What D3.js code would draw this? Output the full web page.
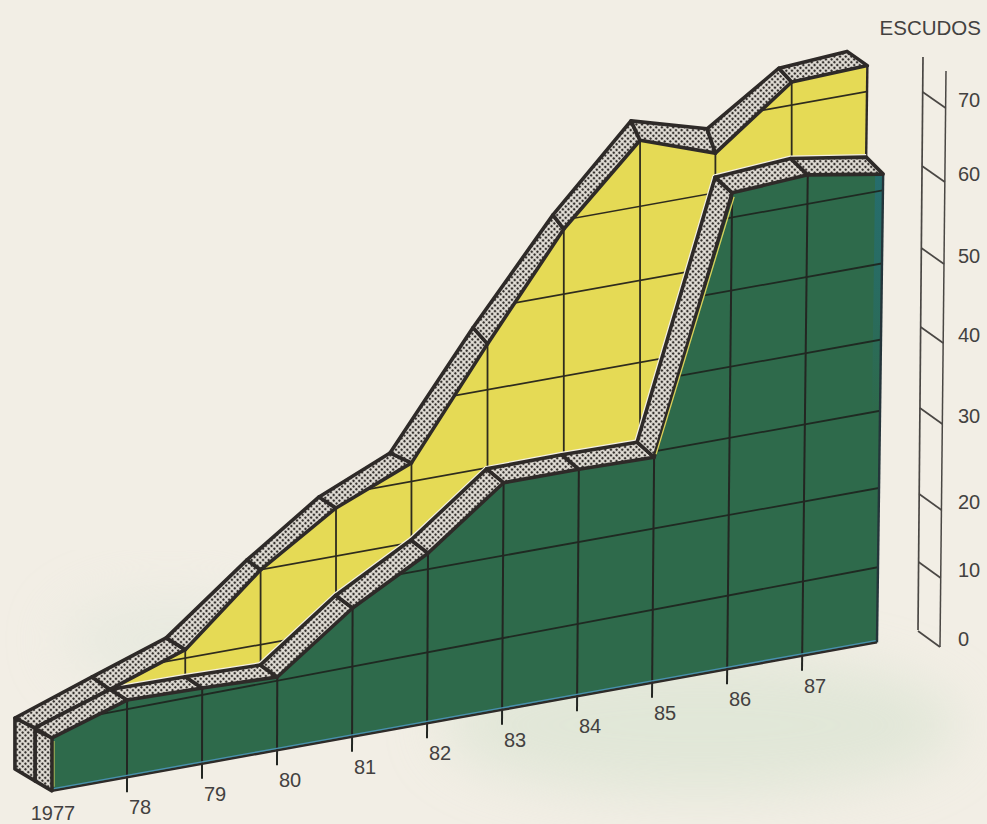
<!DOCTYPE html>
<html><head><meta charset="utf-8">
<script src="https://cdn.jsdelivr.net/npm/d3@7"></script>
<style>html,body{margin:0;padding:0;background:#f2eee5}svg{display:block}text{font-family:"Liberation Sans",Arial,sans-serif;fill:#434140}</style>
</head><body><svg id="c" width="987" height="824"></svg>
<script>
// ---- data ----
const yearLabels = ["1977","78","79","80","81","82","83","84","85","86","87",""];
const greenValues  = [7.83,11.06,10.82,10.45,17.0,22.1,29.5,29.5,29.3,63.4,64.0,62.3];
const yellowValues = [7.83,11.06,14.0,21.9,28.1,32.3,46.6,60.25,70.2,66.6,74.2,74.5];
const yellowBack   = [7.56,11.2,13.9,21.95,27.9,31.35,47.2,60.9,71.7,68.8,74.4,73.7];
const yellowBackDepth = [2.18,2.06,2.12,1.8,2,2.26,1.85,1.64,1.54,1.5,1.75,2.19];
const gridValues = [10,20,30,40,50,60];
const wallGridValues = [10,20,30,40,50,60,70];
const axisTicks = [0,10,20,30,40,50,60,70];
const unitLabel = "ESCUDOS";

// ---- projection scales ----
const W = 987, H = 824;
const idx = d3.range(yearLabels.length);
const xs = d3.scaleLinear().domain([0,11]).range([52,877]);
const faceY = d3.scaleLinear().domain([0,10,20,30,40,50,60,70,80]).range([642,567,488,411,340,264,191,116,41]);
const faceSlope = d3.scaleLinear().domain([0,10,20,80]).range([.18,.189,.18,.18]);
const wallY = d3.scaleLinear().domain([10,20,30,40,50,60,70]).range([536,461,400,322,240,166,92]);
const depthY = d3.scaleLinear().domain([0,11]).range([10,17]);
const axisY = d3.scaleLinear().domain(axisTicks).range([647,578,510,424,343,264,182,108]);
const axisXR = d3.scaleLinear().domain([647,71]).range([940,946]);
const axisXL = d3.scaleLinear().domain([630,57]).range([918,923]);

function P(i,v,d=0){
  const x0 = xs(i);
  return [x0 + .009*i*v - 17*d, faceY(v) + faceSlope(v)*(879-x0) - depthY(i)*d];
}
const wallAt = (v,x) => wallY(v) + .18*(864-x);
const ink = "#2e2a28";
const svg = d3.select("#c");
const line = d3.line();
const defs = svg.append("defs");

const pat = defs.append("pattern").attr("id","stip").attr("width",4).attr("height",4)
  .attr("patternUnits","userSpaceOnUse").attr("patternTransform","rotate(45)");
pat.append("rect").attr("width",4).attr("height",4).attr("fill","#e6e2da");
pat.append("circle").attr("cx",2).attr("cy",2).attr("r",1.3).attr("fill","#35312e");
defs.append("filter").attr("id","blur").attr("x","-50%").attr("y","-50%").attr("width","200%").attr("height","200%")
  .append("feGaussianBlur").attr("stdDeviation",28);
const tealG = defs.append("linearGradient").attr("id","teal").attr("x1",0).attr("x2",0).attr("y1",0).attr("y2",1);
tealG.append("stop").attr("offset",0).attr("stop-color","#256d70").attr("stop-opacity",.95);
tealG.append("stop").attr("offset",.5).attr("stop-color","#256d70").attr("stop-opacity",.6);
tealG.append("stop").attr("offset",1).attr("stop-color","#256d70").attr("stop-opacity",0);

// paper
svg.append("rect").attr("width",W).attr("height",H).attr("fill","#f2eee5");
svg.append("ellipse").attr("cx",700).attr("cy",725).attr("rx",260).attr("ry",70).attr("fill","#d6e2cf").attr("opacity",.6).attr("filter","url(#blur)");
svg.append("ellipse").attr("cx",170).attr("cy",640).attr("rx",110).attr("ry",45).attr("fill","#dfe6da").attr("opacity",.5).attr("filter","url(#blur)");

// polygons
const greenTop = idx.map(i=>P(i,greenValues[i]));
const greenBase = idx.map(i=>P(i,0));
const greenPoly = greenTop.concat(greenBase.slice().reverse());
const greenBackPts = idx.map(i=>P(i,greenValues[i],1));
const yellowTop = idx.map(i=>P(i,yellowValues[i],1));
const backTop = idx.map(i=>P(i,yellowBack[i],yellowBackDepth[i]));
const yellowPoly = yellowTop.concat(greenBackPts.slice().reverse());

defs.append("clipPath").attr("id","clipG").append("path").attr("d",line(greenPoly)+"Z");
defs.append("clipPath").attr("id","clipY").append("path").attr("d",line(yellowPoly)+"Z");

// yellow wall
svg.append("path").attr("d",line(yellowPoly)+"Z").attr("fill","#e5da55");
const gy = svg.append("g").attr("clip-path","url(#clipY)");
gy.selectAll("line.h").data(wallGridValues).join("line")
  .attr("x1",100).attr("x2",900)
  .attr("y1",v=>wallAt(v,100)).attr("y2",v=>wallAt(v,900))
  .attr("stroke","#2f2c1e").attr("stroke-width",1.7);
svg.append("g").selectAll("line").data(idx.slice(2,11)).join("line")
  .attr("x1",i=>yellowTop[i][0]).attr("y1",i=>yellowTop[i][1])
  .attr("x2",i=>yellowTop[i][0]).attr("y2",i=>greenBackPts[i][1])
  .attr("stroke","#2f2c1e").attr("stroke-width",1.8);
// right side of the wall
svg.append("line").attr("x1",yellowTop[11][0]).attr("y1",yellowTop[11][1])
  .attr("x2",greenBackPts[11][0]).attr("y2",greenBackPts[11][1]).attr("stroke",ink).attr("stroke-width",2.4);
// pale halo under the wall's lower edge
svg.append("path").attr("d",line(greenBackPts.slice(1))).attr("fill","none").attr("stroke","#f4f0e2")
  .attr("stroke-width",6).attr("stroke-linejoin","round");

// green face
svg.append("path").attr("d",line(greenPoly)+"Z").attr("fill","#2e6a4b");
const gg = svg.append("g").attr("clip-path","url(#clipG)");
gg.append("path").attr("d",line([P(11,64),P(11,30)].map(p=>[p[0]-8,p[1]]).concat([P(11,30),P(11,64)])))
  .attr("fill","url(#teal)");
gg.selectAll("line.h").data(gridValues).join("line")
  .attr("x1",P(0,0)[0]).attr("x2",900)
  .attr("y1",v=>faceY(v)+faceSlope(v)*(879-52))
  .attr("y2",v=>faceY(v)+faceSlope(v)*(879-900))
  .attr("stroke","#1f2a22").attr("stroke-width",1.8);
// year rules with their ticks below the base line
svg.append("g").selectAll("line").data(idx.slice(1,11)).join("line")
  .attr("x1",i=>greenTop[i][0]).attr("y1",i=>greenTop[i][1])
  .attr("x2",i=>greenBase[i][0]).attr("y2",i=>greenBase[i][1]+15)
  .attr("stroke","#232622").attr("stroke-width",2);
// base and right edge, with the thin mis-registered colours
svg.append("path").attr("d",line(greenBase)).attr("fill","none").attr("stroke",ink).attr("stroke-width",2.4);
svg.append("path").attr("d",line(greenBase.map(p=>[p[0],p[1]-2]))).attr("fill","none").attr("stroke","#4a8fb0").attr("stroke-width",1.4);
svg.append("line").attr("x1",greenTop[11][0]).attr("y1",greenTop[11][1])
  .attr("x2",greenBase[11][0]).attr("y2",greenBase[11][1]).attr("stroke","#24343a").attr("stroke-width",2.4);
svg.append("line").attr("x1",greenTop[0][0]+1.8).attr("y1",greenTop[0][1]+3)
  .attr("x2",greenBase[0][0]+1.8).attr("y2",greenBase[0][1]-4).attr("stroke","#d9d25a").attr("stroke-width",1.4);

// end cap
const capBack = yellowBackDepth[0];
[[0,1],[1,capBack]].forEach(([a,b])=>{
  const q=[P(0,greenValues[0],a),P(0,0,a),P(0,0,b),P(0,yellowBack[0],b)];
  svg.append("path").attr("d",line(q)+"Z").attr("fill","url(#stip)").attr("stroke",ink).attr("stroke-width",3.6).attr("stroke-linejoin","round");
});

// stippled ribbons, one quad per segment
function ribbon(front,back){
  svg.append("g").selectAll("path").data(d3.range(front.length-1)).join("path")
    .attr("d",i=>line([front[i],front[i+1],back[i+1],back[i]])+"Z")
    .attr("fill","url(#stip)").attr("stroke",ink).attr("stroke-width",3.6).attr("stroke-linejoin","round");
}
ribbon(yellowTop,backTop);
ribbon(greenTop,greenBackPts);
// thin yellow sliver along the steep front edge
svg.append("line").attr("x1",greenTop[8][0]+2).attr("y1",greenTop[8][1]-3)
  .attr("x2",greenTop[9][0]+2).attr("y2",greenTop[9][1]+4).attr("stroke","#d9d25a").attr("stroke-width",1.3);

// year labels
svg.append("g").selectAll("text").data(idx.slice(0,11)).join("text")
  .attr("x",i=>greenBase[i][0]+(i===0?1:13))
  .attr("y",i=>greenBase[i][1]+(i===0?22:30))
  .attr("text-anchor","middle").attr("dominant-baseline","central")
  .attr("font-size",20).text(i=>yearLabels[i]);

// value scale
const ag = svg.append("g").attr("stroke","#4a4744").attr("fill","none");
ag.append("line").attr("x1",axisXL(57)).attr("y1",57).attr("x2",axisXL(630)).attr("y2",630).attr("stroke-width",1.7);
ag.append("line").attr("x1",axisXR(71)).attr("y1",71).attr("x2",axisXR(647)).attr("y2",647).attr("stroke-width",1.5);
ag.selectAll("line.t").data(axisTicks).join("line")
  .attr("x1",v=>axisXL(axisY(v)-16)).attr("y1",v=>axisY(v)-16)
  .attr("x2",v=>axisXR(axisY(v))).attr("y2",v=>axisY(v))
  .attr("stroke-width",1.7);
svg.append("g").selectAll("text").data(axisTicks).join("text")
  .attr("x",958).attr("y",v=>axisY(v)-8)
  .attr("dominant-baseline","central").attr("font-size",20).text(v=>v);
svg.append("text").attr("x",981).attr("y",27).attr("text-anchor","end")
  .attr("dominant-baseline","central").attr("font-size",20.5).text(unitLabel);
</script></body></html>
